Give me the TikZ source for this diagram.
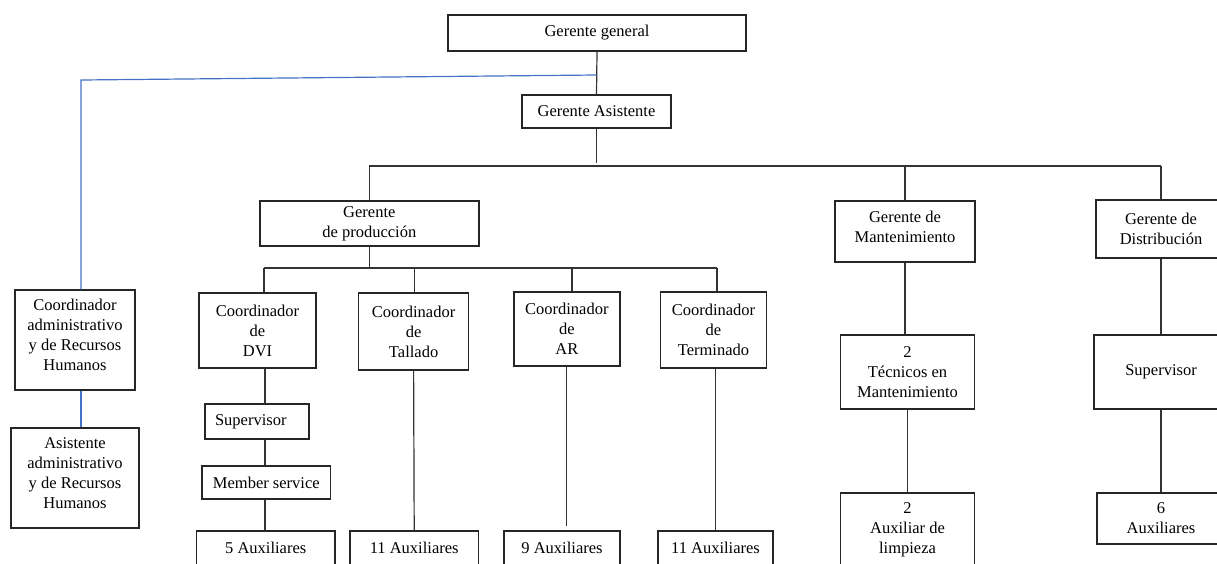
\documentclass[tikz,border=0pt]{standalone}
\usepackage{fontspec}
\setmainfont{Liberation Serif}
\definecolor{officeblue}{RGB}{68,114,196}
\begin{document}
\begin{tikzpicture}[x=1pt, y=-1pt,
    box/.style={draw=black!85, line width=1.4pt, align=center, inner sep=0pt,
        font=\fontsize{16.5}{20}\selectfont},
    link/.style={draw=black!80, line width=1.2pt},
    bluelink/.style={draw=officeblue, line width=1.2pt}]
            \useasboundingbox (0,0) rectangle (1217,563);

            \node[box, minimum width=298, minimum height=36] (gg) at (597, 33) {Gerente general};
            \node[box, minimum width=149, minimum height=33] (ga) at (596.5, 111.5) {Gerente Asistente};

            \node[box, minimum width=219, minimum height=45] (gp) at (369.3, 223.5) {Gerente\\de producción};
            \node[box, minimum width=140, minimum height=61] (gm) at (905, 231.5) {Gerente de\\Mantenimiento\\[-10pt]\mbox{}};
            \node[box, minimum width=130, minimum height=58] (gd) at (1161, 229) {Gerente de\\Distribución};

            \node[box, minimum width=120, minimum height=100] (cadm) at (75, 340) {Coordinador\\administrativo\\y de Recursos\\Humanos\\[-10pt]\mbox{}};
            \node[box, minimum width=128, minimum height=100] (aadm) at (75, 478) {Asistente\\administrativo\\y de Recursos\\Humanos\\[-10pt]\mbox{}};

            \node[box, minimum width=117, minimum height=75] (cdvi) at (257.5, 330.5) {Coordinador\\de\\DVI};
            \node[box, minimum width=110, minimum height=77] (ctal) at (413.6, 331.5) {Coordinador\\de\\Tallado};
            \node[box, minimum width=106, minimum height=74] (car) at (566.8, 329) {Coordinador\\de\\AR};
            \node[box, minimum width=106, minimum height=76] (cter) at (713.5, 330) {Coordinador\\de\\Terminado};

            \node[box, minimum width=104, minimum height=35] (sdvi) at (256.8, 421.5) {Supervisor\hspace{12pt}};
            \node[box, minimum width=128.6, minimum height=33] (msv) at (266.3, 482.5) {Member service};

            \node[box, minimum width=138.5, minimum height=34] (aux5) at (265.7, 548) {5 Auxiliares};
            \node[box, minimum width=128.5, minimum height=34] (aux11t) at (414.2, 548) {11 Auxiliares};
            \node[box, minimum width=116, minimum height=34] (aux9) at (562, 548) {9 Auxiliares};
            \node[box, minimum width=115, minimum height=34] (aux11r) at (715.5, 548) {11 Auxiliares};

            \node[box, minimum width=134, minimum height=74] (tec) at (907.5, 372) {2\\Técnicos en\\Mantenimiento};
            \node[box, minimum width=134, minimum height=74] (alim) at (907.5, 530) {2\\Auxiliar de\\limpieza};
            \node[box, minimum width=134, minimum height=74] (sdist) at (1161, 372) {Supervisor};
            \node[box, minimum width=128, minimum height=51] (aux6) at (1161, 518.5) {6\\Auxiliares};

            \coordinate (bj) at (596.5, 75);
            \coordinate (bl) at (81, 80);
            \coordinate (busl) at (369.3, 166);
            \coordinate (busr) at (1161, 166);
            \coordinate (pb1) at (264, 268);
            \coordinate (pb2) at (414.2, 268);
            \coordinate (pb3) at (572, 268);
            \coordinate (pb4) at (717, 268);
            \coordinate (dvicol) at (265, 0);

            \draw[link] (gg.south) -- (ga.north);
            \draw[bluelink] (bj) -- (bl) -- (bl |- cadm.north);
            \draw[bluelink] (cadm.south -| bl) -- (aadm.north -| bl);

            \draw[link] (ga.south) -- ([yshift=3pt]ga.south |- busl);
            \draw[link] (busl) -- (busr);
            \draw[link] (busl) -- (gp.north);
            \draw[link] (gm.north |- busl) -- (gm.north);
            \draw[link] (busr) -- (gd.north);

            \draw[link] (gp.south) -- (gp.south |- pb1);
            \draw[link] (pb1) -- (pb4);
            \draw[link] (pb1) -- (pb1 |- cdvi.north);
            \draw[link] (pb2) -- (pb2 |- ctal.north);
            \draw[link] (pb3) -- (pb3 |- car.north);
            \draw[link] (pb4) -- (pb4 |- cter.north);

            \draw[link] (cdvi.south -| dvicol) -- (sdvi.north -| dvicol);
            \draw[link] (sdvi.south -| dvicol) -- (msv.north -| dvicol);
            \draw[link] (msv.south -| dvicol) -- (aux5.north -| dvicol);
            \draw[link] (ctal.south) -- (aux11t.north);
            \draw[link] (car.south) -- ([yshift=4pt]aux9.north -| car.south);
            \draw[link] (aux11r.north |- cter.south) -- (aux11r.north);

            \draw[link] (gm.south) -- (gm.south |- tec.north);
            \draw[link] (tec.south) -- (alim.north);
            \draw[link] (gd.south) -- (sdist.north);
            \draw[link] (sdist.south) -- (aux6.north);
        \end{tikzpicture}
\end{document}
